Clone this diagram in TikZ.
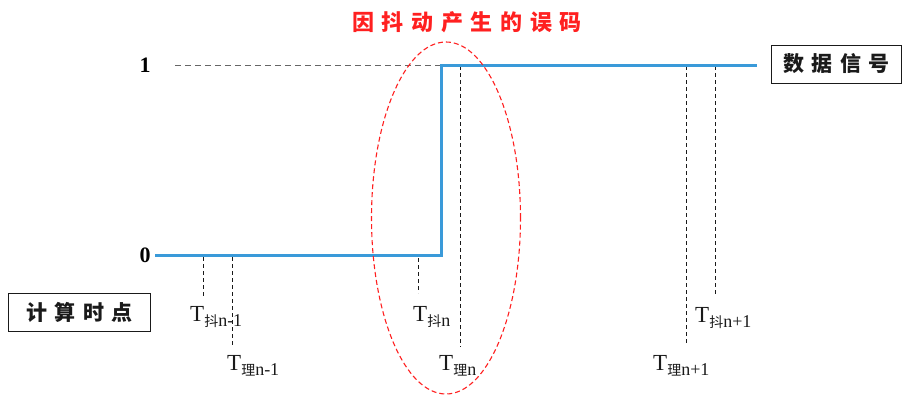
\documentclass[tikz,border=0pt]{standalone}
\usepackage{fontspec}
\setmainfont{Liberation Serif}
\newfontfamily\cjk{Noto Sans CJK SC}
\newfontfamily\cjkwide[LetterSpace=35]{Noto Sans CJK SC}
\usetikzlibrary{positioning, calc, shapes.geometric}
\definecolor{jtSignal}{HTML}{3A9AD9}
\definecolor{jtError}{HTML}{FF2020}
\definecolor{jtGuide}{HTML}{666666}
\definecolor{jtInk}{HTML}{1A1A1A}
% T with a Chinese + index subscript
\newcommand{\jtT}[2]{{\fontsize{23}{23}\selectfont T}\raisebox{-5pt}{\fontsize{14}{14}\selectfont\cjk #1\rmfamily\fontsize{18}{18}\selectfont #2}}
\tikzset{
  jtlevel/.style={font=\fontsize{22}{22}\selectfont\bfseries, inner sep=0pt},
  jtbox/.style={draw=jtInk, line width=1pt, minimum height=38pt, inner sep=0pt,
    text=jtInk, font=\cjkwide\bfseries\fontsize{21}{21}\selectfont},
  jtmark/.style={inner sep=0pt, anchor=north west, text=jtInk},
  jttick/.style={draw=jtInk, dash pattern=on 4pt off 3pt, line width=0.9pt},
  jtwave/.style={draw=jtSignal, line width=3pt},
  jtguide/.style={draw=jtGuide, dash pattern=on 6pt off 4pt, line width=0.8pt},
  jterr/.style={draw=jtError, dash pattern=on 5pt off 3pt, line width=1.1pt},
}

\begin{document}
\begin{tikzpicture}[x=1pt, y=-1pt]
  \useasboundingbox (0,0) rectangle (904,397);

  % --- Levels and labels --------------------------------------------------
  \node[jtlevel] (one)  at (145,65)  {1};
  \node[jtlevel] (zero) at (145,255) {0};
  \node[text=jtError, font=\cjkwide\bfseries\fontsize{22}{22}\selectfont]
        (title) at (467,22) {因抖动产生的误码};
  \node[jtbox, minimum width=130pt, anchor=west] (data) at (771,64)  {数据信号};
  \node[jtbox, minimum width=142pt, anchor=west] (calc) at (8,312)   {计算时点};

  % --- Signal corners -----------------------------------------------------
  \coordinate (low)  at (155,255);
  \coordinate (edge) at (441,255);
  \coordinate (high) at (757,65);
  \coordinate (gs)   at (175,65);

  % --- Sampling instants --------------------------------------------------
  \node[jtmark] (j1) at (190,306) {\jtT{抖}{n-1}};
  \node[jtmark] (l1) at (227,355) {\jtT{理}{n-1}};
  \node[jtmark] (j2) at (413,306) {\jtT{抖}{n}};
  \node[jtmark] (l2) at (439,355) {\jtT{理}{n}};
  \node[jtmark] (j3) at (695,307) {\jtT{抖}{n+1}};
  \node[jtmark] (l3) at (653,355) {\jtT{理}{n+1}};

  \coordinate (a1) at (203,257); \coordinate (b1) at (203,298);
  \coordinate (a2) at (232,257); \coordinate (b2) at (232,347);
  \coordinate (a3) at (418,258); \coordinate (b3) at (418,293);
  \coordinate (a4) at (460,66);  \coordinate (b4) at (460,347);
  \coordinate (a5) at (686,66);  \coordinate (b5) at (686,345);
  \coordinate (a6) at (715,66);  \coordinate (b6) at (715,295);

  \draw[jttick] (a1) -- (b1);
  \draw[jttick] (a2) -- (b2);
  \draw[jttick] (a3) -- (b3);
  \draw[jttick] (a4) -- (b4);
  \draw[jttick] (a5) -- (b5);
  \draw[jttick] (a6) -- (b6);

  % --- Waveform -----------------------------------------------------------
  \draw[jtguide] (gs) -- (edge |- gs);
  \draw[jtwave] (low) -- (edge) -- (edge |- high) -- (high);

  % error zone
  \node[jterr, ellipse, minimum width=149pt, minimum height=352pt, inner sep=0pt]
        (zone) at (446,218) {};

\end{tikzpicture}
\end{document}
